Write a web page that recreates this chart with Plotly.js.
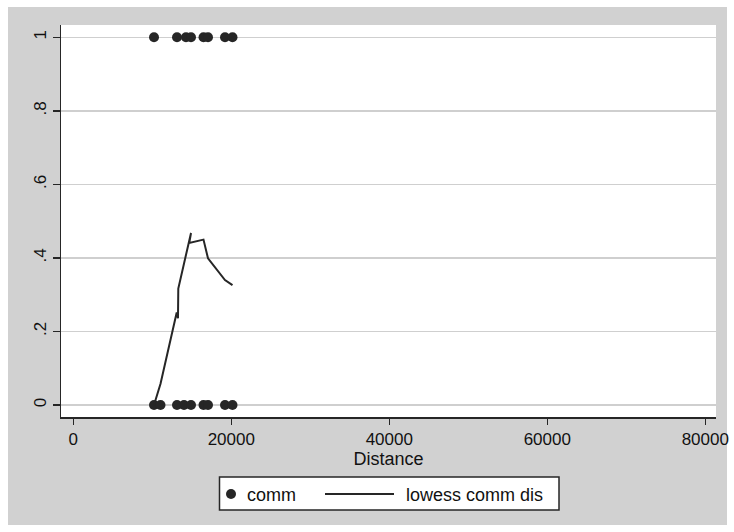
<!DOCTYPE html>
<html>
<head>
<meta charset="utf-8">
<script src="https://cdn.plot.ly/plotly-3.0.1.min.js"></script>
<style>
  html, body { margin: 0; padding: 0; background: #ffffff; }
  #chart { position: absolute; left: 8px; top: 7px; width: 719px; height: 518px; }
  #chart .main-svg { overflow: visible !important; }
</style>
</head>
<body>
<div id="chart"></div>
<script>
// Observed outcomes (comm = 1 / comm = 0) against distance
const distOnes  = [10215, 13126, 14265, 14898, 16481, 17050, 19202, 20151];
const commOnes  = [1, 1, 1, 1, 1, 1, 1, 1];
const distZeros = [10215, 11038, 13126, 14012, 14898, 16481, 17050, 19202, 20151];
const commZeros = [0, 0, 0, 0, 0, 0, 0, 0, 0];

// Lowess smooth of comm on distance
const lowessDist = [10215, 11040, 13090, 13250, 13290, 14350, 14560, 14900, 14680, 16480, 17050, 18570, 19200, 20150];
const lowessComm = [0.000, 0.058, 0.252, 0.236, 0.317, 0.412, 0.439, 0.468, 0.441, 0.450, 0.399, 0.358, 0.340, 0.326];

// Axis ticks
const xTickVals = [0, 20000, 40000, 60000, 80000];
const xTickText = ['0', '20000', '40000', '60000', '80000'];
const yTickVals = [0, 0.2, 0.4, 0.6, 0.8, 1];
const yTickText = ['0', '.2', '.4', '.6', '.8', '1'];

// Legend labels
const legendLabels = ['comm', 'lowess comm dis'];

const ink = '#262626';
const font = 'Liberation Sans, Arial, Helvetica, sans-serif';

// Plot area geometry in page pixels (used to place the framed legend)
const PL = 61, PR = 716, PT = 25, PB = 417;
const fx = x => (x - PL) / (PR - PL);
const fy = y => (PB - y) / (PB - PT);

const traces = [
  {
    x: distOnes.concat(distZeros),
    y: commOnes.concat(commZeros),
    type: 'scatter', mode: 'markers',
    marker: { color: ink, size: 10, line: { width: 0 } },
    showlegend: false, hoverinfo: 'skip', cliponaxis: false
  },
  {
    x: lowessDist, y: lowessComm,
    type: 'scatter', mode: 'lines',
    line: { color: ink, width: 2 },
    showlegend: false, hoverinfo: 'skip'
  }
];

const legendY = 494;
const layout = {
  width: 719, height: 518,
  margin: { l: PL - 8, r: 727 - PR, t: PT - 7, b: 525 - PB },
  paper_bgcolor: '#d1d1d1',
  plot_bgcolor: '#ffffff',
  font: { family: font, size: 17, color: '#111111' },
  showlegend: false,
  xaxis: {
    range: [-1557, 81354],
    tickvals: xTickVals, ticktext: xTickText,
    ticks: 'outside', ticklen: 6, tickwidth: 1.5, tickcolor: ink,
    ticklabeloverflow: 'allow',
    showline: true, linecolor: ink, linewidth: 1.5,
    showgrid: false, zeroline: false,
    tickfont: { size: 17 },
    title: { text: 'Distance', font: { size: 18 }, standoff: 2 }
  },
  yaxis: {
    range: [-0.0324, 1.0335],
    tickvals: yTickVals, ticktext: yTickText,
    tickangle: -90,
    ticks: 'outside', ticklen: 7, tickwidth: 1.5, tickcolor: ink,
    showline: true, linecolor: ink, linewidth: 1.5,
    showgrid: true, gridcolor: '#cfcfcf', gridwidth: 1.5,
    zeroline: false,
    tickfont: { size: 17 }
  },
  shapes: [
    { type: 'rect', xref: 'paper', yref: 'paper',
      x0: fx(219.5), x1: fx(559), y0: fy(477), y1: fy(510),
      fillcolor: '#ffffff', line: { color: ink, width: 1.5 } },
    { type: 'circle', xref: 'paper', yref: 'paper',
      x0: fx(226), x1: fx(236), y0: fy(legendY - 5), y1: fy(legendY + 5),
      fillcolor: ink, line: { width: 0 } },
    { type: 'line', xref: 'paper', yref: 'paper',
      x0: fx(325), x1: fx(394), y0: fy(legendY), y1: fy(legendY),
      line: { color: ink, width: 2 } }
  ],
  annotations: [
    { xref: 'paper', yref: 'paper', x: fx(245), y: fy(legendY + 1),
      xanchor: 'left', yanchor: 'middle', showarrow: false,
      text: legendLabels[0], font: { size: 18, color: '#111111' } },
    { xref: 'paper', yref: 'paper', x: fx(404), y: fy(legendY + 1),
      xanchor: 'left', yanchor: 'middle', showarrow: false,
      text: legendLabels[1], font: { size: 18, color: '#111111' } }
  ]
};

Plotly.newPlot('chart', traces, layout, { displayModeBar: false, staticPlot: true });
</script>
</body>
</html>
